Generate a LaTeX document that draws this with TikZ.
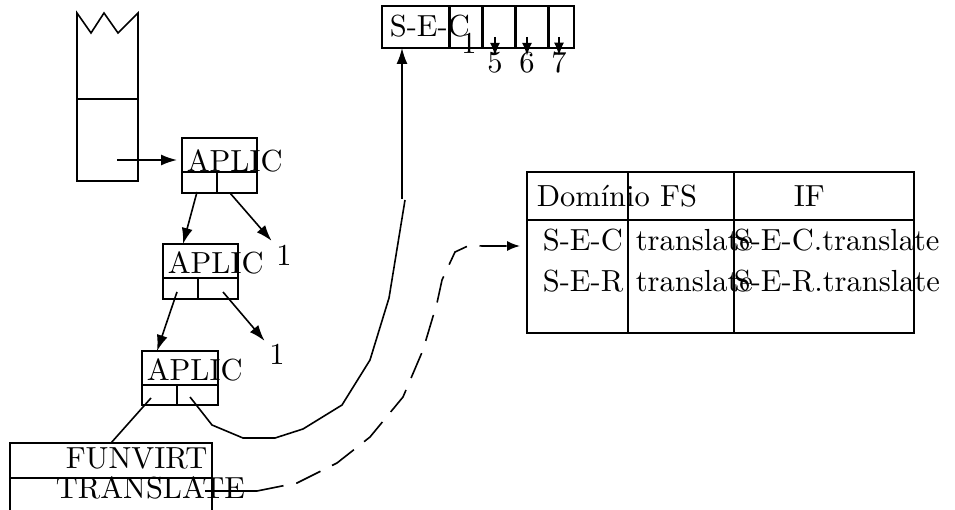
\documentclass[tikz,border=0pt]{standalone}
\usepackage{fontspec}
\setmainfont{lmroman10-regular}[Extension=.otf]
\usetikzlibrary{arrows.meta}
\begin{document}
\begin{tikzpicture}[x=1pt,y=-1pt,line width=1.6pt,
  txt/.style={anchor=base west,inner sep=0pt,font=\fontsize{30.5}{36}\selectfont},
  digit/.style={anchor=base,inner sep=0pt,font=\fontsize{30.5}{36}\selectfont},
  frame/.style={draw,rectangle,inner sep=0pt,outer sep=0pt},
  arr/.style={-{Latex[length=16pt,width=11pt]}},
  smallarr/.style={-{Latex[length=13pt,width=10pt]}},
  link/.style={line join=round},
  dashlink/.style={line join=round,dash pattern=on 27pt off 13pt},
  sep/.style={line width=3pt}
]
\useasboundingbox (0,0) rectangle (955,510);

% stack with torn top
\node[frame,minimum width=61pt,minimum height=82pt] (stk) at (107.5,140) {};
\draw[line join=miter] (stk.north west) -- (77,13) -- (91,33) -- (104,13)
  -- (118,33) -- (138,13) -- (stk.north east);
\coordinate (stkout) at (117,160);

% application cells
\node[frame,minimum width=75pt,minimum height=55pt] (ap1) at (219.5,165.5) {};
\node[frame,minimum width=75pt,minimum height=55pt] (ap2) at (200.5,271.5) {};
\node[frame,minimum width=76pt,minimum height=54pt] (ap3) at (180,378) {};
\foreach \b in {ap1,ap2,ap3}{
  \draw ([yshift=-34pt]\b.north west) -- ([yshift=-34pt]\b.north east);
  \draw ([xshift=35pt,yshift=-34pt]\b.north west) -- ([xshift=35pt]\b.south west);
}
\node[txt] (t1) at (186,172) {APLIC};
\node[txt] (t2) at (167,274) {APLIC};
\node[txt] (t3) at (146,380) {APLIC};

\node[digit] (n1) at (284,266) {1};
\node[digit] (n2) at (277,364) {1};

% code vector
\node[frame,minimum width=192pt,minimum height=42pt] (sec) at (478,27) {};
\foreach \x in {449,482,515,548}{
  \draw[sep] (\x,6) -- (\x,48);
}
\node[txt] (sectxt) at (389,37) {S-E-C};
\node[digit] (c1) at (469,54) {1};
\node[digit] (c5) at (495,73) {5};
\node[digit] (c6) at (527,73) {6};
\node[digit] (c7) at (559,73) {7};
\foreach \d/\x in {c5/495,c6/527,c7/559}{
  \coordinate (\d top) at (\x,37);
  \draw[smallarr] (\d top) -- ([yshift=-4pt]\d.north);
}

% virtual function frame
\node[frame,minimum width=202pt,minimum height=87pt] (fv) at (111,486.5) {};
\draw (10,478) -- (212,478);
\node[txt] (fvtxt) at (65,468) {FUNVIRT};
\node[txt] (trtxt) at (55,498) {TRANSLATE};

% function table
\node[frame,minimum width=387pt,minimum height=161pt] (tbl) at (720.5,252.5) {};
\draw (527,220) -- (914,220);
\draw (628,172) -- (628,333);
\draw (734,172) -- (734,333);
\node[txt] (h1) at (536,207) {Domínio FS};
\node[txt] (h3) at (793,207) {IF};
\node[txt] (r1a) at (542,251) {S-E-C};
\node[txt] (r1b) at (635,251) {translate};
\node[txt] (r1c) at (733,251) {S-E-C.translate};
\node[txt] (r2a) at (542,292) {S-E-R};
\node[txt] (r2b) at (635,292) {translate};
\node[txt] (r2c) at (733,292) {S-E-R.translate};

% connectors
\draw[arr,shorten >=5pt] (stkout) -- (stkout -| ap1.west);

\coordinate (ap1l) at (197,192);
\coordinate (ap1r) at (230,193);
\coordinate (ap2l) at (177,292);
\coordinate (ap2r) at (223,292);
\coordinate (ap3l) at (151,398);
\coordinate (ap3r) at (190,397);

\draw[arr] (ap1l) -- ([xshift=20pt]ap2.north west);
\draw[arr] (ap1r) -- ([shift={(-4pt,4pt)}]n1.north west);
\draw[arr] (ap2l) -- ([xshift=15pt]ap3.north west);
\draw[arr] (ap2r) -- ([shift={(-4pt,2pt)}]n2.north west);
\draw (ap3l) -- (fv.north west -| 111,0);

% link from the cell to the code vector
\coordinate (bend) at (405,200);
\coordinate (rise) at (402,199);
\draw[link] (ap3r) -- (212,425) -- (243,438) -- (275,438) -- (303,429)
  -- (342,405) -- (370,360) -- (389,298) -- (bend);
\draw[arr] (rise) -- (rise |- sec.south);

% link from TRANSLATE to the table
\coordinate (trout) at (205,491);
\coordinate (trdash) at (257,491);
\coordinate (tin) at ([xshift=-7pt,yshift=6.5pt]tbl.west);
\draw (trout) -- (trdash);
\draw[dashlink,smallarr] (trdash) -- (297,483) -- (337,463) -- (370,437)
  -- (403,397) -- (423,350) -- (437,303) -- (442,280) -- (455,252)
  -- (470,245) -- (482,246) -- (tin);
\end{tikzpicture}
\end{document}
